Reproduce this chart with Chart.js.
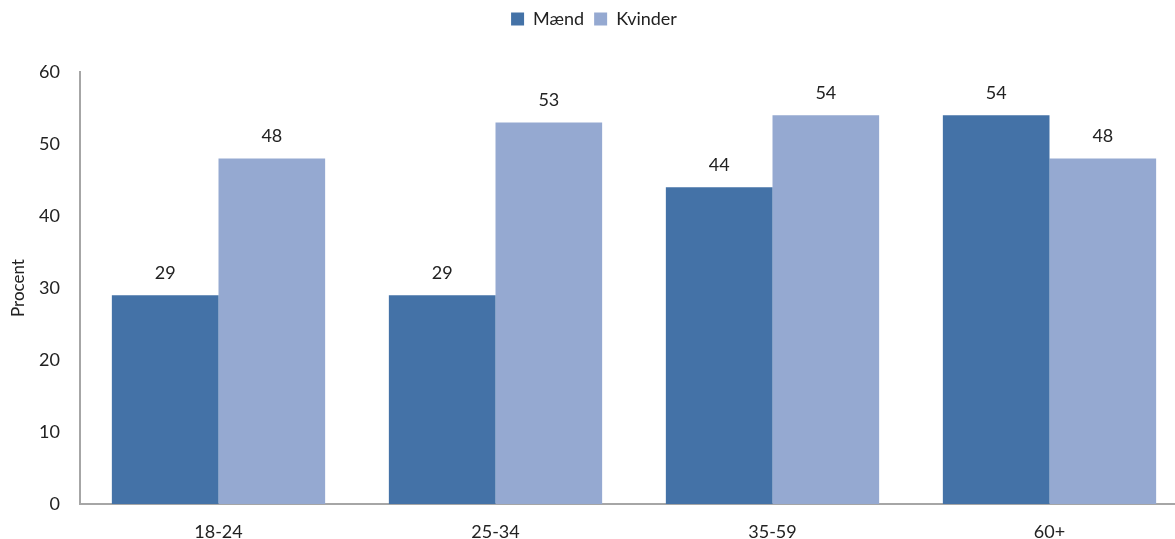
<!DOCTYPE html>
<html>
<head>
<meta charset="utf-8">
<script src="https://cdn.jsdelivr.net/npm/chart.js@4"></script>
<style>
html,body{margin:0;padding:0;background:#fff;overflow:hidden;}
#wrap{width:1188px;height:539px;position:relative;}
</style>
</head>
<body>
<div id="wrap"><canvas id="c"></canvas></div>
<script>
const categories = ["18-24", "25-34", "35-59", "60+"];
const maend = [29, 29, 44, 54];
const kvinder = [48, 53, 54, 48];
const seriesNames = ["Mænd", "Kvinder"];
const yTicks = [0, 10, 20, 30, 40, 50, 60];

const FONT = "Lato, 'Open Sans', sans-serif";
const FS = 18;

const valueLabels = {
  id: 'valueLabels',
  afterDatasetsDraw(chart) {
    const ctx = chart.ctx;
    ctx.save();
    ctx.font = FS + "px " + FONT;
    ctx.fillStyle = "#222";
    ctx.textAlign = "center";
    ctx.textBaseline = "bottom";
    chart.data.datasets.forEach((ds, i) => {
      const meta = chart.getDatasetMeta(i);
      meta.data.forEach((bar, j) => {
        ctx.fillText(String(ds.data[j]), bar.x, bar.y - 13);
      });
    });
    ctx.restore();
  }
};

const legendGap = {
  id: 'legendGap',
  afterInit(chart) {
    const lg = chart.legend;
    if (!lg) return;
    const orig = lg.fit;
    lg.fit = function () { orig.call(this); this.height += 34; };
  }
};

new Chart(document.getElementById('c'), {
  type: 'bar',
  data: {
    labels: categories,
    datasets: [
      { label: seriesNames[0], data: maend, backgroundColor: '#4472a7', borderWidth: 0 },
      { label: seriesNames[1], data: kvinder, backgroundColor: '#95a9d1', borderWidth: 0 }
    ]
  },
  options: {
    responsive: true,
    maintainAspectRatio: false,
    animation: false,
    layout: { padding: { top: 0, left: 0, right: 0, bottom: 0 } },
    datasets: { bar: { categoryPercentage: 0.77, barPercentage: 1.0 } },
    plugins: {
      legend: {
        display: true,
        position: 'top',
        labels: {
          font: { family: FONT, size: FS },
          color: '#222',
          boxWidth: 13,
          boxHeight: 13,
          padding: 10
        }
      },
      tooltip: { enabled: false }
    },
    scales: {
      x: {
        grid: { display: false, drawTicks: false },
        border: { display: true, color: '#a6a6a6', width: 2 },
        ticks: { font: { family: FONT, size: FS }, color: '#222', padding: 17 },
        afterFit(scale) { scale.height = 35; }
      },
      y: {
        min: 0, max: 60,
        afterBuildTicks(scale) { scale.ticks = yTicks.map(v => ({ value: v })); },
        grid: { display: false, drawTicks: false },
        border: { display: true, color: '#a6a6a6', width: 2 },
        ticks: { font: { family: FONT, size: FS }, color: '#222', padding: 20 },
        title: { display: true, text: 'Procent', font: { family: FONT, size: FS - 1 }, color: '#222', padding: { top: 8, bottom: 0 } },
        afterFit(scale) { scale.width = 80; }
      }
    }
  },
  plugins: [valueLabels, legendGap]
});
</script>
</body>
</html>
